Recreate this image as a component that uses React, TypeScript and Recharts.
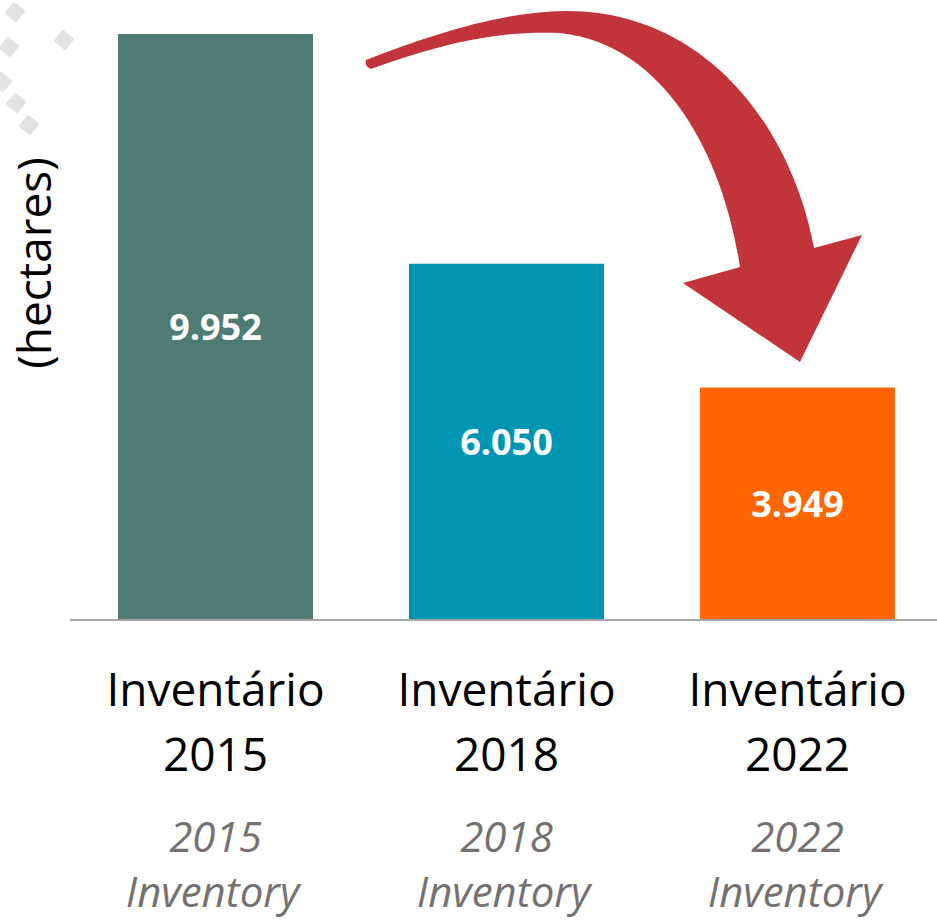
import React from 'react';
import { BarChart, Bar, XAxis, YAxis, Cell, LabelList, Customized } from 'recharts';

const years = ['2015', '2018', '2022'];
const hectares = [9952, 6050, 3949];
const labelsPt = ['Inventário', 'Inventário', 'Inventário'];
const labelsEn = ['Inventory', 'Inventory', 'Inventory'];
const barColors = ['#4E7B73', '#0096B2', '#FF6600'];

const data = years.map((y, i) => ({ year: y, value: hectares[i], pt: labelsPt[i], en: labelsEn[i] }));

const FONT = "'Open Sans', 'Noto Sans', sans-serif";

const fmt = (v: any) => {
  const s = String(v);
  return s.replace(/\B(?=(\d{3})+(?!\d))/g, '.');
};

const CatTick = (props: any) => {
  const { x, y, payload, index } = props;
  const d = data[index] || data.find((e) => e.year === payload.value);
  return (
    <g>
      <text x={x} y={y + 86} textAnchor="middle" fontFamily={FONT} fontSize={46} fill="#000">{d.pt}</text>
      <text x={x} y={y + 151} textAnchor="middle" fontFamily={FONT} fontSize={46} fill="#000">{d.year}</text>
      <text x={x} y={y + 232} textAnchor="middle" fontFamily={FONT} fontStyle="italic" fontSize={42} fill="#767171">{d.year}</text>
      <text x={x - 3} y={y + 287} textAnchor="middle" fontFamily={FONT} fontStyle="italic" fontSize={42} fill="#767171">{d.en}</text>
    </g>
  );
};

const diamonds = [
  [15, 12], [9, 47], [64, 40], [2, 82], [16, 103], [29, 125],
];

const Decor = () => (
  <g>
    {diamonds.map(([cx, cy], i) => (
      <rect key={i} x={cx - 7.5} y={cy - 7.5} width={15} height={15} rx={1.5} fill="#E1E2E4"
        transform={`rotate(40 ${cx} ${cy})`} />
    ))}
    <path
      d="M 366 60 C 430 35, 500 12, 565 11 C 700 10, 790 120, 814 248 L 862 235 L 800 362 L 683 283 L 740 267 C 725 165, 670 45, 560 33 C 490 30, 430 48, 371 69 Q 364 66, 366 60 Z"
      fill="#C1343A"
    />
    <text x={0} y={0} transform="translate(51 263) rotate(-90)" textAnchor="middle" fontFamily={FONT} fontSize={46} fill="#000">(hectares)</text>
  </g>
);

export default function App() {
  return (
    <div style={{ position: 'absolute', left: 0, top: 0, width: 937, height: 920, overflow: 'hidden', background: '#fff' }}>
      <BarChart width={950} height={920} data={data} margin={{ top: 34, right: 7, left: 70, bottom: 0 }} barSize={195}>
        <XAxis dataKey="year" height={300} axisLine={{ stroke: '#A6A6A6', strokeWidth: 2 }} tickLine={false}
          tickSize={0} tickMargin={0} interval={0} tick={<CatTick />} />
        <YAxis hide domain={[0, 'dataMax']} />
        <Bar dataKey="value" isAnimationActive={false}>
          {data.map((d, i) => (
            <Cell key={d.year} fill={barColors[i]} />
          ))}
          <LabelList dataKey="value" position="center" formatter={fmt} fill="#fff" fontSize={36} fontWeight={700} fontFamily={FONT} />
        </Bar>
        <Customized component={Decor} />
      </BarChart>
    </div>
  );
}
